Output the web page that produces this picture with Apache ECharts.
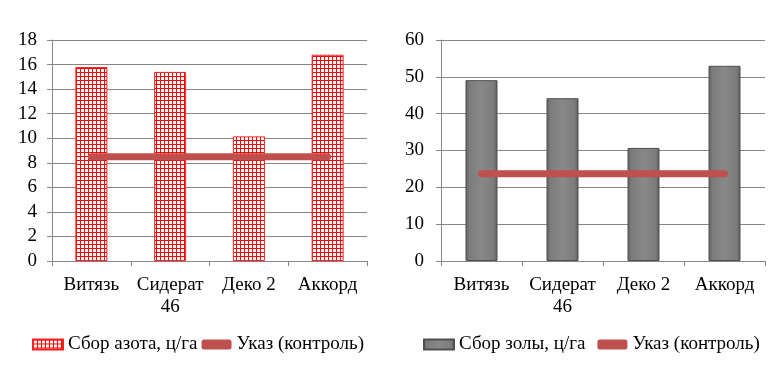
<!DOCTYPE html>
<html><head><meta charset="utf-8">
<script src="https://cdn.jsdelivr.net/npm/echarts@6/dist/echarts.min.js"></script>
<style>
html,body{margin:0;padding:0;background:#fff;}
#c1{position:absolute;left:0;top:0;width:386px;height:387px;}
#c2{position:absolute;left:386px;top:0;width:387px;height:387px;}
</style></head>
<body>
<div id="c1"></div><div id="c2"></div>
<script>
var categories = ['Витязь', 'Сидерат\n46', 'Деко 2', 'Аккорд'];
var nitrogen = [15.8, 15.4, 10.15, 16.8];
var nitrogenControl = [8.5, 8.5, 8.5, 8.5];
var ash = [49.1, 44.2, 30.7, 53.0];
var ashControl = [23.7, 23.7, 23.7, 23.7];
var yTicksLeft = {min: 0, max: 18, interval: 2};
var yTicksRight = {min: 0, max: 60, interval: 10};

var FONT = 'Liberation Serif';
function gridPattern() {
  var c = document.createElement('canvas');
  c.width = 4; c.height = 4;
  var g = c.getContext('2d');
  g.fillStyle = '#ffffff'; g.fillRect(0, 0, 4, 4);
  g.fillStyle = '#ff0000';
  g.fillRect(0, 0, 4, 1);
  g.fillRect(0, 0, 1, 4);
  return c;
}
var pat = {image: gridPattern(), repeat: 'repeat'};
var grayGrad = new echarts.graphic.LinearGradient(0, 0, 1, 0, [
  {offset: 0, color: '#5e5e5e'},
  {offset: 0.12, color: '#7c7c7c'},
  {offset: 0.5, color: '#888888'},
  {offset: 0.88, color: '#7c7c7c'},
  {offset: 1, color: '#5a5a5a'}
]);

function makeOption(cfg) {
  return {
    animation: false,
    textStyle: {fontFamily: FONT},
    grid: {left: cfg.left, right: cfg.right, top: 40, bottom: 126},
    legend: {
      left: cfg.legendLeft, top: 330, itemWidth: 30, itemHeight: 10, itemGap: cfg.legendGap,
      textStyle: {fontFamily: FONT, fontSize: 19, color: '#000'},
      data: [
        {name: cfg.barName, icon: 'rect'},
        {name: 'Указ (контроль)', icon: 'roundRect', itemStyle: {color: '#c0504d'}}
      ]
    },
    xAxis: {
      type: 'category', data: categories,
      axisLine: {lineStyle: {color: '#868686'}},
      axisTick: {show: true, length: 5, lineStyle: {color: '#868686'}},
      axisLabel: {fontFamily: FONT, fontSize: 19, color: '#000', margin: 13, lineHeight: 22, interval: 0}
    },
    yAxis: {
      type: 'value', min: cfg.ticks.min, max: cfg.ticks.max, interval: cfg.ticks.interval,
      axisLine: {show: true, lineStyle: {color: '#868686'}},
      axisTick: {show: true, length: 5, lineStyle: {color: '#868686'}},
      splitLine: {lineStyle: {color: '#868686', width: 1}},
      axisLabel: {fontFamily: FONT, fontSize: 19, color: '#000', margin: cfg.labelMargin}
    },
    series: [
      {name: cfg.barName, type: 'bar', data: cfg.bars, barWidth: 32,
       itemStyle: cfg.barStyle},
      {name: 'Указ (контроль)', type: 'line', data: cfg.control, symbol: 'none',
       lineStyle: {color: '#c0504d', width: 7, cap: 'round'}, itemStyle: {color: '#c0504d'}, z: 5}
    ]
  };
}

var ch1 = echarts.init(document.getElementById('c1'));
ch1.setOption(makeOption({
  left: 52, right: 19, legendLeft: 27, legendGap: 4, labelMargin: 15,
  ticks: yTicksLeft, barName: 'Сбор азота, ц/га', bars: nitrogen, control: nitrogenControl,
  barStyle: {color: pat, borderColor: '#ff2020', borderWidth: 1}
}));
var ch2 = echarts.init(document.getElementById('c2'));
ch2.setOption(makeOption({
  left: 55, right: 8, legendLeft: 32, legendGap: 12, labelMargin: 17,
  ticks: yTicksRight, barName: 'Сбор золы, ц/га', bars: ash, control: ashControl,
  barStyle: {color: grayGrad, borderColor: '#505050', borderWidth: 1}
}));
</script>
</body></html>
